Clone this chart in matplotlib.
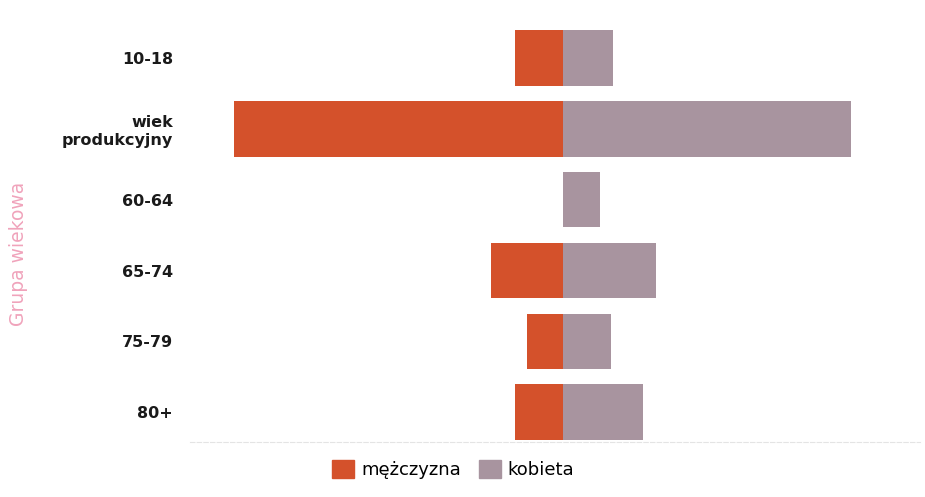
import matplotlib.pyplot as plt
from matplotlib.patches import Patch

# age groups, top to bottom
groups = ["10-18", "wiek\nprodukcyjny", "60-64", "65-74", "75-79", "80+"]
men = [6, 41, 0, 9, 4.5, 6]
women = [6.2, 36, 4.6, 11.6, 6, 10]

men_color = "#d4512b"
women_color = "#a8949f"

fig = plt.figure(figsize=(9.25, 4.97), dpi=100)
ax = fig.add_axes([0.205, 0.111, 0.79, 0.849])

pos = list(range(len(groups)))
ax.barh(pos, [-m for m in men], height=0.78, color=men_color, edgecolor="none")
ax.barh(pos, women, height=0.78, color=women_color, edgecolor="none")

ax.set_xlim(-46.6, 44.6)
ax.set_ylim(5.42, -0.54)
ax.set_yticks(pos)
ax.set_yticklabels(groups, fontsize=11.5, color="#1a1a1a", fontweight="bold")
ax.tick_params(axis="y", length=0, pad=12)
ax.set_xticks([])

for s in ["top", "right", "left"]:
    ax.spines[s].set_visible(False)
ax.spines["bottom"].set_color("#e4e4e4")
ax.spines["bottom"].set_linestyle((0, (4, 2)))

fig.text(0.02, 0.49, "Grupa wiekowa", rotation=90, color="#f0a3bb",
         fontsize=13.5, ha="center", va="center")

handles = [Patch(color=men_color, label="mężczyzna"),
           Patch(color=women_color, label="kobieta")]
fig.legend(handles=handles, loc="center", bbox_to_anchor=(0.49, 0.055), ncol=2,
           frameon=False, fontsize=13, handlelength=1.2, handleheight=1.2,
           columnspacing=1.0, handletextpad=0.4)

fig.savefig("out.png", dpi=100)
